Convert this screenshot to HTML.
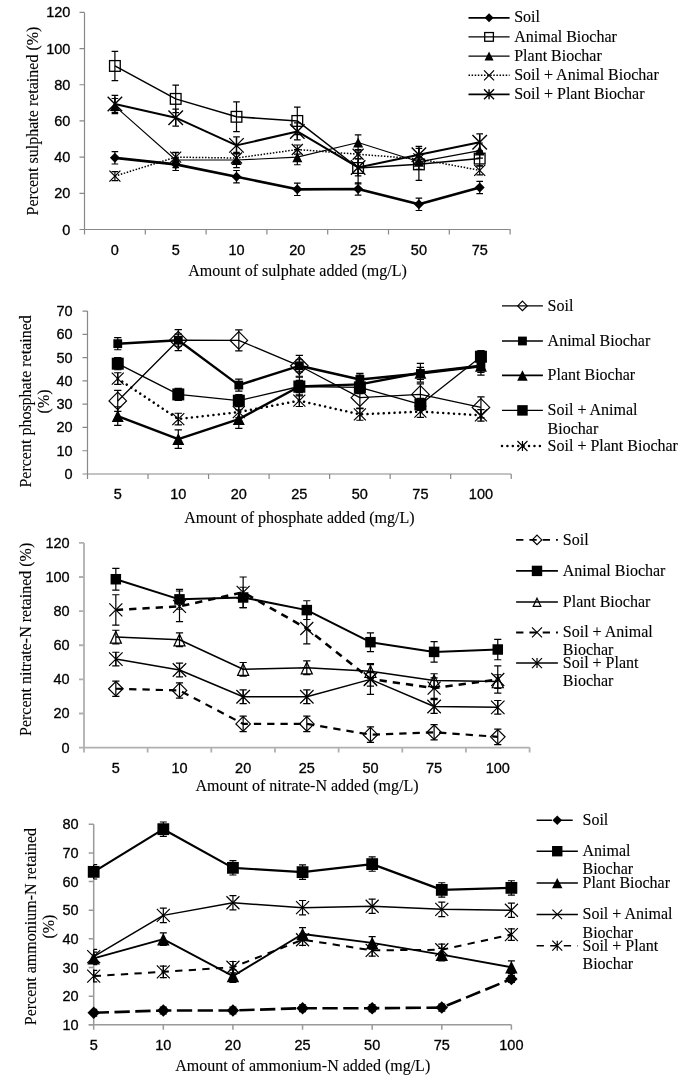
<!DOCTYPE html>
<html><head><meta charset="utf-8"><style>html,body{margin:0;padding:0;background:#fff;}svg{display:block;will-change:transform;}.s{font-family:"Liberation Sans",sans-serif;}.t{font-family:"Liberation Serif",serif;}</style></head>
<body><svg width="685" height="1079" viewBox="0 0 685 1079">
<rect width="685" height="1079" fill="#fff"/>
<path d="M84.5,12.4V229.5M84.5,229.5H510.5" stroke="#888" stroke-width="1.2" fill="none"/>
<path d="M79.5,229.5H84.5M79.5,193.32H84.5M79.5,157.13H84.5M79.5,120.95H84.5M79.5,84.77H84.5M79.5,48.58H84.5M79.5,12.4H84.5M84.5,229.5V234.5M145.3,229.5V234.5M206.1,229.5V234.5M266.9,229.5V234.5M327.7,229.5V234.5M388.5,229.5V234.5M449.3,229.5V234.5M510.1,229.5V234.5" stroke="#888" stroke-width="1.2" fill="none"/>
<g class="s" font-size="14.5" fill="#000" stroke="#000" stroke-width="0.3">
<text x="70.4" y="234.5" text-anchor="end">0</text>
<text x="70.4" y="198.32" text-anchor="end">20</text>
<text x="70.4" y="162.13" text-anchor="end">40</text>
<text x="70.4" y="125.95" text-anchor="end">60</text>
<text x="70.4" y="89.77" text-anchor="end">80</text>
<text x="70.4" y="53.58" text-anchor="end">100</text>
<text x="70.4" y="17.4" text-anchor="end">120</text>
<text x="114.9" y="254.8" text-anchor="middle">0</text>
<text x="175.7" y="254.8" text-anchor="middle">5</text>
<text x="236.5" y="254.8" text-anchor="middle">10</text>
<text x="297.3" y="254.8" text-anchor="middle">20</text>
<text x="358.1" y="254.8" text-anchor="middle">25</text>
<text x="418.9" y="254.8" text-anchor="middle">50</text>
<text x="479.7" y="254.8" text-anchor="middle">75</text>
</g>
<g class="t" font-size="16" fill="#000" stroke="#000" stroke-width="0.12">
<text x="297.5" y="275.6" text-anchor="middle">Amount of sulphate added (mg/L)</text>
<text transform="translate(37.8,121) rotate(-90)" text-anchor="middle">Percent sulphate retained (%)</text>
</g>
<polyline points="114.9,157.86 175.7,164.37 236.5,176.67 297.3,189.34 358.1,188.97 418.9,204.35 479.7,187.53" fill="none" stroke="#000" stroke-width="2.6" stroke-linecap="butt" stroke-linejoin="round"/>
<polyline points="114.9,65.95 175.7,98.88 236.5,116.79 297.3,120.95 358.1,167.99 418.9,164.37 479.7,158.58" fill="none" stroke="#000" stroke-width="1.5" stroke-linecap="butt" stroke-linejoin="round"/>
<polyline points="114.9,106.11 175.7,160.03 236.5,160.03 297.3,157.13 358.1,142.48 418.9,161.84 479.7,150.62" fill="none" stroke="#000" stroke-width="1.1" stroke-linecap="butt" stroke-linejoin="round"/>
<polyline points="114.9,176.13 175.7,157.13 236.5,158.04 297.3,149.53 358.1,154.24 418.9,158.94 479.7,170.34" fill="none" stroke="#000" stroke-width="1.5" stroke-dasharray="1.5 1.6" stroke-linecap="butt" stroke-linejoin="round"/>
<polyline points="114.9,103.94 175.7,117.69 236.5,145.37 297.3,131.44 358.1,167.45 418.9,154.78 479.7,142.3" fill="none" stroke="#000" stroke-width="2.0" stroke-linecap="butt" stroke-linejoin="round"/>
<path d="M114.9,151.71V164.01M111.6,151.71H118.2M111.6,164.01H118.2M175.7,158.22V170.52M172.4,158.22H179M172.4,170.52H179M236.5,170.52V182.82M233.2,170.52H239.8M233.2,182.82H239.8M297.3,183.19V195.49M294,183.19H300.6M294,195.49H300.6M358.1,182.82V195.13M354.8,182.82H361.4M354.8,195.13H361.4M418.9,198.2V210.5M415.6,198.2H422.2M415.6,210.5H422.2M479.7,181.38V193.68M476.4,181.38H483M476.4,193.68H483" stroke="#000" stroke-width="1.2" fill="none"/>
<path d="M114.9,51.3V80.61M111.6,51.3H118.2M111.6,80.61H118.2M175.7,85.13V112.63M172.4,85.13H179M172.4,112.63H179M236.5,101.95V131.62M233.2,101.95H239.8M233.2,131.62H239.8M297.3,107.2V134.7M294,107.2H300.6M294,134.7H300.6M358.1,152.07V183.91M354.8,152.07H361.4M354.8,183.91H361.4M418.9,148.45V180.29M415.6,148.45H422.2M415.6,180.29H422.2M479.7,151.34V165.82M476.4,151.34H483M476.4,165.82H483" stroke="#000" stroke-width="1.2" fill="none"/>
<path d="M114.9,98.52V113.71M111.6,98.52H118.2M111.6,113.71H118.2M175.7,152.43V167.63M172.4,152.43H179M172.4,167.63H179M236.5,152.43V167.63M233.2,152.43H239.8M233.2,167.63H239.8M297.3,149.53V164.73M294,149.53H300.6M294,164.73H300.6M358.1,134.88V150.08M354.8,134.88H361.4M354.8,150.08H361.4M418.9,154.24V169.44M415.6,154.24H422.2M415.6,169.44H422.2M479.7,143.02V158.22M476.4,143.02H483M476.4,158.22H483" stroke="#000" stroke-width="1.2" fill="none"/>
<path d="M114.9,171.61V180.65M111.6,171.61H118.2M111.6,180.65H118.2M175.7,152.61V161.66M172.4,152.61H179M172.4,161.66H179M236.5,153.51V162.56M233.2,153.51H239.8M233.2,162.56H239.8M297.3,145.01V154.06M294,145.01H300.6M294,154.06H300.6M358.1,149.72V158.76M354.8,149.72H361.4M354.8,158.76H361.4M418.9,154.42V163.47M415.6,154.42H422.2M415.6,163.47H422.2M479.7,165.82V174.86M476.4,165.82H483M476.4,174.86H483" stroke="#000" stroke-width="1.2" fill="none"/>
<path d="M114.9,95.44V112.45M111.6,95.44H118.2M111.6,112.45H118.2M175.7,109.19V126.2M172.4,109.19H179M172.4,126.2H179M236.5,136.87V153.88M233.2,136.87H239.8M233.2,153.88H239.8M297.3,122.94V139.95M294,122.94H300.6M294,139.95H300.6M358.1,158.94V175.95M354.8,158.94H361.4M354.8,175.95H361.4M418.9,146.28V163.28M415.6,146.28H422.2M415.6,163.28H422.2M479.7,133.8V150.8M476.4,133.8H483M476.4,150.8H483" stroke="#000" stroke-width="1.2" fill="none"/>
<polygon points="114.9,152.86 119.9,157.86 114.9,162.86 109.9,157.86" fill="#000"/>
<polygon points="175.7,159.37 180.7,164.37 175.7,169.37 170.7,164.37" fill="#000"/>
<polygon points="236.5,171.67 241.5,176.67 236.5,181.67 231.5,176.67" fill="#000"/>
<polygon points="297.3,184.34 302.3,189.34 297.3,194.34 292.3,189.34" fill="#000"/>
<polygon points="358.1,183.97 363.1,188.97 358.1,193.97 353.1,188.97" fill="#000"/>
<polygon points="418.9,199.35 423.9,204.35 418.9,209.35 413.9,204.35" fill="#000"/>
<polygon points="479.7,182.53 484.7,187.53 479.7,192.53 474.7,187.53" fill="#000"/>
<rect x="109.55" y="60.6" width="10.7" height="10.7" fill="none" stroke="#000" stroke-width="1.3"/>
<rect x="170.35" y="93.53" width="10.7" height="10.7" fill="none" stroke="#000" stroke-width="1.3"/>
<rect x="231.15" y="111.44" width="10.7" height="10.7" fill="none" stroke="#000" stroke-width="1.3"/>
<rect x="291.95" y="115.6" width="10.7" height="10.7" fill="none" stroke="#000" stroke-width="1.3"/>
<rect x="352.75" y="162.64" width="10.7" height="10.7" fill="none" stroke="#000" stroke-width="1.3"/>
<rect x="413.55" y="159.02" width="10.7" height="10.7" fill="none" stroke="#000" stroke-width="1.3"/>
<rect x="474.35" y="153.23" width="10.7" height="10.7" fill="none" stroke="#000" stroke-width="1.3"/>
<polygon points="114.9,101.11 119.9,111.11 109.9,111.11" fill="#000"/>
<polygon points="175.7,155.03 180.7,165.03 170.7,165.03" fill="#000"/>
<polygon points="236.5,155.03 241.5,165.03 231.5,165.03" fill="#000"/>
<polygon points="297.3,152.13 302.3,162.13 292.3,162.13" fill="#000"/>
<polygon points="358.1,137.48 363.1,147.48 353.1,147.48" fill="#000"/>
<polygon points="418.9,156.84 423.9,166.84 413.9,166.84" fill="#000"/>
<polygon points="479.7,145.62 484.7,155.62 474.7,155.62" fill="#000"/>
<path d="M109.4,170.63L120.4,181.63M120.4,170.63L109.4,181.63" stroke="#000" stroke-width="1.2" fill="none"/>
<path d="M170.2,151.63L181.2,162.63M181.2,151.63L170.2,162.63" stroke="#000" stroke-width="1.2" fill="none"/>
<path d="M231,152.54L242,163.54M242,152.54L231,163.54" stroke="#000" stroke-width="1.2" fill="none"/>
<path d="M291.8,144.03L302.8,155.03M302.8,144.03L291.8,155.03" stroke="#000" stroke-width="1.2" fill="none"/>
<path d="M352.6,148.74L363.6,159.74M363.6,148.74L352.6,159.74" stroke="#000" stroke-width="1.2" fill="none"/>
<path d="M413.4,153.44L424.4,164.44M424.4,153.44L413.4,164.44" stroke="#000" stroke-width="1.2" fill="none"/>
<path d="M474.2,164.84L485.2,175.84M485.2,164.84L474.2,175.84" stroke="#000" stroke-width="1.2" fill="none"/>
<path d="M107.65,96.69L122.15,111.19M122.15,96.69L107.65,111.19M114.9,96.69L114.9,111.19" stroke="#000" stroke-width="1.4" fill="none"/>
<path d="M168.45,110.44L182.95,124.94M182.95,110.44L168.45,124.94M175.7,110.44L175.7,124.94" stroke="#000" stroke-width="1.4" fill="none"/>
<path d="M229.25,138.12L243.75,152.62M243.75,138.12L229.25,152.62M236.5,138.12L236.5,152.62" stroke="#000" stroke-width="1.4" fill="none"/>
<path d="M290.05,124.19L304.55,138.69M304.55,124.19L290.05,138.69M297.3,124.19L297.3,138.69" stroke="#000" stroke-width="1.4" fill="none"/>
<path d="M350.85,160.2L365.35,174.7M365.35,160.2L350.85,174.7M358.1,160.2L358.1,174.7" stroke="#000" stroke-width="1.4" fill="none"/>
<path d="M411.65,147.53L426.15,162.03M426.15,147.53L411.65,162.03M418.9,147.53L418.9,162.03" stroke="#000" stroke-width="1.4" fill="none"/>
<path d="M472.45,135.05L486.95,149.55M486.95,135.05L472.45,149.55M479.7,135.05L479.7,149.55" stroke="#000" stroke-width="1.4" fill="none"/>
<line x1="468.5" y1="17.8" x2="509.6" y2="17.8" stroke="#000" stroke-width="1.8" stroke-linecap="butt"/>
<polygon points="489.05,13.3 493.55,17.8 489.05,22.3 484.55,17.8" fill="#000"/>
<text x="514.2" y="22.4" class="t" font-size="16" stroke="#000" stroke-width="0.12">Soil</text>
<line x1="468.5" y1="36.9" x2="509.6" y2="36.9" stroke="#000" stroke-width="1.2" stroke-linecap="butt"/>
<rect x="484.7" y="32.55" width="8.7" height="8.7" fill="none" stroke="#000" stroke-width="1.3"/>
<text x="514.2" y="41.5" class="t" font-size="16" stroke="#000" stroke-width="0.12">Animal Biochar</text>
<line x1="468.5" y1="56.1" x2="509.6" y2="56.1" stroke="#000" stroke-width="1.3" stroke-linecap="butt"/>
<polygon points="489.05,51.6 493.55,60.6 484.55,60.6" fill="#000"/>
<text x="514.2" y="60.7" class="t" font-size="16" stroke="#000" stroke-width="0.12">Plant Biochar</text>
<line x1="468.5" y1="75.3" x2="509.6" y2="75.3" stroke="#000" stroke-width="1.5" stroke-dasharray="1.5 1.6" stroke-linecap="butt"/>
<path d="M484.05,70.3L494.05,80.3M494.05,70.3L484.05,80.3" stroke="#000" stroke-width="1.2" fill="none"/>
<text x="514.2" y="79.9" class="t" font-size="16" stroke="#000" stroke-width="0.12">Soil + Animal Biochar</text>
<line x1="468.5" y1="94.3" x2="509.6" y2="94.3" stroke="#000" stroke-width="1.8" stroke-linecap="butt"/>
<path d="M484.05,89.3L494.05,99.3M494.05,89.3L484.05,99.3M489.05,89.3L489.05,99.3" stroke="#000" stroke-width="1.4" fill="none"/>
<text x="514.2" y="98.9" class="t" font-size="16" stroke="#000" stroke-width="0.12">Soil + Plant Biochar</text>
<path d="M87.5,311.1V474M87.5,474H511.2" stroke="#888" stroke-width="1.2" fill="none"/>
<path d="M82.5,474H87.5M82.5,450.73H87.5M82.5,427.46H87.5M82.5,404.19H87.5M82.5,380.91H87.5M82.5,357.64H87.5M82.5,334.37H87.5M82.5,311.1H87.5M87.5,474V479M148.03,474V479M208.56,474V479M269.09,474V479M329.61,474V479M390.14,474V479M450.67,474V479M511.2,474V479" stroke="#888" stroke-width="1.2" fill="none"/>
<g class="s" font-size="14.5" fill="#000" stroke="#000" stroke-width="0.3">
<text x="72.6" y="479" text-anchor="end">0</text>
<text x="72.6" y="455.73" text-anchor="end">10</text>
<text x="72.6" y="432.46" text-anchor="end">20</text>
<text x="72.6" y="409.19" text-anchor="end">30</text>
<text x="72.6" y="385.91" text-anchor="end">40</text>
<text x="72.6" y="362.64" text-anchor="end">50</text>
<text x="72.6" y="339.37" text-anchor="end">60</text>
<text x="72.6" y="316.1" text-anchor="end">70</text>
<text x="117.76" y="499.3" text-anchor="middle">5</text>
<text x="178.29" y="499.3" text-anchor="middle">10</text>
<text x="238.82" y="499.3" text-anchor="middle">20</text>
<text x="299.35" y="499.3" text-anchor="middle">25</text>
<text x="359.88" y="499.3" text-anchor="middle">50</text>
<text x="420.41" y="499.3" text-anchor="middle">75</text>
<text x="480.94" y="499.3" text-anchor="middle">100</text>
</g>
<g class="t" font-size="16" fill="#000" stroke="#000" stroke-width="0.12">
<text x="299.4" y="523.4" text-anchor="middle">Amount of phosphate added (mg/L)</text>
<text transform="translate(30.5,401.4) rotate(-90)" text-anchor="middle">Percent phosphate retained</text>
<text transform="translate(48.8,401.4) rotate(-90)" text-anchor="middle">(%)</text>
</g>
<polyline points="117.76,400.93 178.29,340.19 238.82,340.42 299.35,365.79 359.88,397.67 420.41,394.41 480.94,407.44" fill="none" stroke="#000" stroke-width="1.3" stroke-linecap="butt" stroke-linejoin="round"/>
<polyline points="117.76,343.68 178.29,340.19 238.82,385.1 299.35,365.79 359.88,379.52 420.41,373.47 480.94,366.25" fill="none" stroke="#000" stroke-width="2.4" stroke-linecap="butt" stroke-linejoin="round"/>
<polyline points="117.76,416.05 178.29,439.09 238.82,419.08 299.35,386.5 359.88,384.4 420.41,372.77 480.94,365.79" fill="none" stroke="#000" stroke-width="2.4" stroke-linecap="butt" stroke-linejoin="round"/>
<polyline points="117.76,363.69 178.29,394.41 238.82,400.69 299.35,386.5 359.88,387.43 420.41,404.42 480.94,356.71" fill="none" stroke="#000" stroke-width="1.3" stroke-linecap="butt" stroke-linejoin="round"/>
<polyline points="117.76,378.59 178.29,419.08 238.82,412.1 299.35,400.69 359.88,414.43 420.41,411.63 480.94,415.36" fill="none" stroke="#000" stroke-width="2.5" stroke-dasharray="0.01 5.4" stroke-linecap="round" stroke-linejoin="round"/>
<path d="M117.76,390.46V411.4M114.11,390.46H121.41M114.11,411.4H121.41M178.29,329.72V350.66M174.64,329.72H181.94M174.64,350.66H181.94M238.82,329.95V350.89M235.17,329.95H242.47M235.17,350.89H242.47M299.35,355.32V376.26M295.7,355.32H303M295.7,376.26H303M359.88,387.2V408.14M356.23,387.2H363.53M356.23,408.14H363.53M420.41,383.94V404.88M416.76,383.94H424.06M416.76,404.88H424.06M480.94,396.97V417.92M477.29,396.97H484.59M477.29,417.92H484.59" stroke="#000" stroke-width="1.2" fill="none"/>
<path d="M117.76,337.63V349.73M114.11,337.63H121.41M114.11,349.73H121.41M178.29,334.14V346.24M174.64,334.14H181.94M174.64,346.24H181.94M238.82,379.05V391.15M235.17,379.05H242.47M235.17,391.15H242.47M299.35,359.74V371.84M295.7,359.74H303M295.7,371.84H303M359.88,373.47V385.57M356.23,373.47H363.53M356.23,385.57H363.53M420.41,367.42V379.52M416.76,367.42H424.06M416.76,379.52H424.06M480.94,360.2V372.3M477.29,360.2H484.59M477.29,372.3H484.59" stroke="#000" stroke-width="1.2" fill="none"/>
<path d="M117.76,406.75V425.36M114.11,406.75H121.41M114.11,425.36H121.41M178.29,429.78V448.4M174.64,429.78H181.94M174.64,448.4H181.94M238.82,409.77V428.39M235.17,409.77H242.47M235.17,428.39H242.47M299.35,377.19V395.81M295.7,377.19H303M295.7,395.81H303M359.88,375.1V393.71M356.23,375.1H363.53M356.23,393.71H363.53M420.41,363.46V382.08M416.76,363.46H424.06M416.76,382.08H424.06M480.94,356.48V375.1M477.29,356.48H484.59M477.29,375.1H484.59" stroke="#000" stroke-width="1.2" fill="none"/>
<path d="M117.76,357.64V369.74M114.11,357.64H121.41M114.11,369.74H121.41M178.29,388.36V400.46M174.64,388.36H181.94M174.64,400.46H181.94M238.82,394.64V406.75M235.17,394.64H242.47M235.17,406.75H242.47M299.35,380.45V392.55M295.7,380.45H303M295.7,392.55H303M359.88,381.38V393.48M356.23,381.38H363.53M356.23,393.48H363.53M420.41,398.37V410.47M416.76,398.37H424.06M416.76,410.47H424.06M480.94,350.66V362.76M477.29,350.66H484.59M477.29,362.76H484.59" stroke="#000" stroke-width="1.2" fill="none"/>
<path d="M117.76,372.77V384.4M114.11,372.77H121.41M114.11,384.4H121.41M178.29,413.26V424.9M174.64,413.26H181.94M174.64,424.9H181.94M238.82,406.28V417.92M235.17,406.28H242.47M235.17,417.92H242.47M299.35,394.88V406.51M295.7,394.88H303M295.7,406.51H303M359.88,408.61V420.24M356.23,408.61H363.53M356.23,420.24H363.53M420.41,405.81V417.45M416.76,405.81H424.06M416.76,417.45H424.06M480.94,409.54V421.17M477.29,409.54H484.59M477.29,421.17H484.59" stroke="#000" stroke-width="1.2" fill="none"/>
<polygon points="117.76,392.18 126.51,400.93 117.76,409.68 109.01,400.93" fill="none" stroke="#000" stroke-width="1.2"/>
<polygon points="178.29,331.44 187.04,340.19 178.29,348.94 169.54,340.19" fill="none" stroke="#000" stroke-width="1.2"/>
<polygon points="238.82,331.67 247.57,340.42 238.82,349.17 230.07,340.42" fill="none" stroke="#000" stroke-width="1.2"/>
<polygon points="299.35,357.04 308.1,365.79 299.35,374.54 290.6,365.79" fill="none" stroke="#000" stroke-width="1.2"/>
<polygon points="359.88,388.92 368.63,397.67 359.88,406.42 351.13,397.67" fill="none" stroke="#000" stroke-width="1.2"/>
<polygon points="420.41,385.66 429.16,394.41 420.41,403.16 411.66,394.41" fill="none" stroke="#000" stroke-width="1.2"/>
<polygon points="480.94,398.69 489.69,407.44 480.94,416.19 472.19,407.44" fill="none" stroke="#000" stroke-width="1.2"/>
<rect x="113.36" y="339.28" width="8.8" height="8.8" fill="#000"/>
<rect x="173.89" y="335.79" width="8.8" height="8.8" fill="#000"/>
<rect x="234.42" y="380.7" width="8.8" height="8.8" fill="#000"/>
<rect x="294.95" y="361.39" width="8.8" height="8.8" fill="#000"/>
<rect x="355.48" y="375.12" width="8.8" height="8.8" fill="#000"/>
<rect x="416.01" y="369.07" width="8.8" height="8.8" fill="#000"/>
<rect x="476.54" y="361.85" width="8.8" height="8.8" fill="#000"/>
<polygon points="117.76,410.05 123.76,422.05 111.76,422.05" fill="#000"/>
<polygon points="178.29,433.09 184.29,445.09 172.29,445.09" fill="#000"/>
<polygon points="238.82,413.08 244.82,425.08 232.82,425.08" fill="#000"/>
<polygon points="299.35,380.5 305.35,392.5 293.35,392.5" fill="#000"/>
<polygon points="359.88,378.4 365.88,390.4 353.88,390.4" fill="#000"/>
<polygon points="420.41,366.77 426.41,378.77 414.41,378.77" fill="#000"/>
<polygon points="480.94,359.79 486.94,371.79 474.94,371.79" fill="#000"/>
<rect x="111.76" y="357.69" width="12" height="12" fill="#000"/>
<rect x="172.29" y="388.41" width="12" height="12" fill="#000"/>
<rect x="232.82" y="394.69" width="12" height="12" fill="#000"/>
<rect x="293.35" y="380.5" width="12" height="12" fill="#000"/>
<rect x="353.88" y="381.43" width="12" height="12" fill="#000"/>
<rect x="414.41" y="398.42" width="12" height="12" fill="#000"/>
<rect x="474.94" y="350.71" width="12" height="12" fill="#000"/>
<path d="M111.76,372.59L123.76,384.59M123.76,372.59L111.76,384.59M117.76,372.59L117.76,384.59" stroke="#000" stroke-width="1.2" fill="none"/>
<path d="M172.29,413.08L184.29,425.08M184.29,413.08L172.29,425.08M178.29,413.08L178.29,425.08" stroke="#000" stroke-width="1.2" fill="none"/>
<path d="M232.82,406.1L244.82,418.1M244.82,406.1L232.82,418.1M238.82,406.1L238.82,418.1" stroke="#000" stroke-width="1.2" fill="none"/>
<path d="M293.35,394.69L305.35,406.69M305.35,394.69L293.35,406.69M299.35,394.69L299.35,406.69" stroke="#000" stroke-width="1.2" fill="none"/>
<path d="M353.88,408.43L365.88,420.43M365.88,408.43L353.88,420.43M359.88,408.43L359.88,420.43" stroke="#000" stroke-width="1.2" fill="none"/>
<path d="M414.41,405.63L426.41,417.63M426.41,405.63L414.41,417.63M420.41,405.63L420.41,417.63" stroke="#000" stroke-width="1.2" fill="none"/>
<path d="M474.94,409.36L486.94,421.36M486.94,409.36L474.94,421.36M480.94,409.36L480.94,421.36" stroke="#000" stroke-width="1.2" fill="none"/>
<line x1="502" y1="305.9" x2="542.9" y2="305.9" stroke="#000" stroke-width="1.3" stroke-linecap="butt"/>
<polygon points="522.45,301.15 527.2,305.9 522.45,310.65 517.7,305.9" fill="none" stroke="#000" stroke-width="1.2"/>
<text x="547.6" y="310.8" class="t" font-size="16" stroke="#000" stroke-width="0.12">Soil</text>
<line x1="502" y1="341" x2="542.9" y2="341" stroke="#000" stroke-width="1.6" stroke-linecap="butt"/>
<rect x="518.05" y="336.6" width="8.8" height="8.8" fill="#000"/>
<text x="547.6" y="345.9" class="t" font-size="16" stroke="#000" stroke-width="0.12">Animal Biochar</text>
<line x1="502" y1="375.4" x2="542.9" y2="375.4" stroke="#000" stroke-width="1.6" stroke-linecap="butt"/>
<polygon points="522.45,370.15 527.7,380.65 517.2,380.65" fill="#000"/>
<text x="547.6" y="380.3" class="t" font-size="16" stroke="#000" stroke-width="0.12">Plant Biochar</text>
<line x1="502" y1="410.4" x2="542.9" y2="410.4" stroke="#000" stroke-width="1.3" stroke-linecap="butt"/>
<rect x="517.2" y="405.15" width="10.5" height="10.5" fill="#000"/>
<text x="547.6" y="415.3" class="t" font-size="16" stroke="#000" stroke-width="0.12">Soil + Animal</text>
<text x="547.6" y="433.5" class="t" font-size="16" stroke="#000" stroke-width="0.12">Biochar</text>
<line x1="502" y1="446" x2="542.9" y2="446" stroke="#000" stroke-width="2.5" stroke-dasharray="0.01 5.4" stroke-linecap="round"/>
<path d="M517.45,441L527.45,451M527.45,441L517.45,451M522.45,441L522.45,451" stroke="#000" stroke-width="1.2" fill="none"/>
<text x="547.6" y="450.9" class="t" font-size="16" stroke="#000" stroke-width="0.12">Soil + Plant Biochar</text>
<path d="M84,542.9V747.6M84,747.6H529.6" stroke="#b0b0b0" stroke-width="1.8" fill="none"/>
<path d="M79,747.6H84M79,713.48H84M79,679.37H84M79,645.25H84M79,611.13H84M79,577.02H84M79,542.9H84M84,747.6V752.6M147.66,747.6V752.6M211.31,747.6V752.6M274.97,747.6V752.6M338.63,747.6V752.6M402.29,747.6V752.6M465.94,747.6V752.6M529.6,747.6V752.6" stroke="#b0b0b0" stroke-width="1.8" fill="none"/>
<g class="s" font-size="14.5" fill="#000" stroke="#000" stroke-width="0.3">
<text x="69.6" y="752.6" text-anchor="end">0</text>
<text x="69.6" y="718.48" text-anchor="end">20</text>
<text x="69.6" y="684.37" text-anchor="end">40</text>
<text x="69.6" y="650.25" text-anchor="end">60</text>
<text x="69.6" y="616.13" text-anchor="end">80</text>
<text x="69.6" y="582.02" text-anchor="end">100</text>
<text x="69.6" y="547.9" text-anchor="end">120</text>
<text x="115.83" y="772.9" text-anchor="middle">5</text>
<text x="179.49" y="772.9" text-anchor="middle">10</text>
<text x="243.14" y="772.9" text-anchor="middle">20</text>
<text x="306.8" y="772.9" text-anchor="middle">25</text>
<text x="370.46" y="772.9" text-anchor="middle">50</text>
<text x="434.11" y="772.9" text-anchor="middle">75</text>
<text x="497.77" y="772.9" text-anchor="middle">100</text>
</g>
<g class="t" font-size="16" fill="#000" stroke="#000" stroke-width="0.12">
<text x="307" y="790.5" text-anchor="middle">Amount of nitrate-N added (mg/L)</text>
<text transform="translate(31,639.4) rotate(-90)" text-anchor="middle">Percent nitrate-N retained (%)</text>
</g>
<polyline points="115.83,688.75 179.49,690.45 243.14,723.89 306.8,723.89 370.46,734.64 434.11,732.25 497.77,736.85" fill="none" stroke="#000" stroke-width="2.2" stroke-dasharray="7.3 6" stroke-linecap="butt" stroke-linejoin="round"/>
<polyline points="115.83,579.23 179.49,599.36 243.14,597.49 306.8,610.11 370.46,642.18 434.11,651.9 497.77,649.51" fill="none" stroke="#000" stroke-width="2.0" stroke-linecap="butt" stroke-linejoin="round"/>
<polyline points="115.83,637.06 179.49,639.79 243.14,669.3 306.8,667.77 370.46,671.35 434.11,680.56 497.77,681.58" fill="none" stroke="#000" stroke-width="1.5" stroke-linecap="butt" stroke-linejoin="round"/>
<polyline points="115.83,609.94 179.49,606.36 243.14,592.37 306.8,628.53 370.46,679.03 434.11,688.07 497.77,679.54" fill="none" stroke="#000" stroke-width="2.6" stroke-dasharray="7.3 6" stroke-linecap="butt" stroke-linejoin="round"/>
<polyline points="115.83,659.07 179.49,669.98 243.14,696.77 306.8,696.77 370.46,679.37 434.11,706.49 497.77,707.34" fill="none" stroke="#000" stroke-width="1.5" stroke-linecap="butt" stroke-linejoin="round"/>
<path d="M115.83,681.07V696.42M112.23,681.07H119.43M112.23,696.42H119.43M179.49,682.78V698.13M175.89,682.78H183.09M175.89,698.13H183.09M243.14,716.21V731.57M239.54,716.21H246.74M239.54,731.57H246.74M306.8,716.21V731.57M303.2,716.21H310.4M303.2,731.57H310.4M370.46,726.96V742.31M366.86,726.96H374.06M366.86,742.31H374.06M434.11,724.57V739.92M430.51,724.57H437.71M430.51,739.92H437.71M497.77,729.18V744.53M494.17,729.18H501.37M494.17,744.53H501.37" stroke="#000" stroke-width="1.2" fill="none"/>
<path d="M115.83,568.32V590.15M112.23,568.32H119.43M112.23,590.15H119.43M179.49,589.47V609.26M175.89,589.47H183.09M175.89,609.26H183.09M243.14,587.25V607.72M239.54,587.25H246.74M239.54,607.72H246.74M306.8,600.73V619.49M303.2,600.73H310.4M303.2,619.49H310.4M370.46,632.8V651.56M366.86,632.8H374.06M366.86,651.56H374.06M434.11,641.67V662.14M430.51,641.67H437.71M430.51,662.14H437.71M497.77,639.28V659.75M494.17,639.28H501.37M494.17,659.75H501.37" stroke="#000" stroke-width="1.2" fill="none"/>
<path d="M115.83,630.24V643.89M112.23,630.24H119.43M112.23,643.89H119.43M179.49,632.97V646.61M175.89,632.97H183.09M175.89,646.61H183.09M243.14,662.48V676.13M239.54,662.48H246.74M239.54,676.13H246.74M306.8,660.94V674.59M303.2,660.94H310.4M303.2,674.59H310.4M370.46,664.53V678.17M366.86,664.53H374.06M366.86,678.17H374.06M434.11,673.74V687.38M430.51,673.74H437.71M430.51,687.38H437.71M497.77,674.76V688.41M494.17,674.76H501.37M494.17,688.41H501.37" stroke="#000" stroke-width="1.2" fill="none"/>
<path d="M115.83,594.76V625.12M112.23,594.76H119.43M112.23,625.12H119.43M179.49,591V621.71M175.89,591H183.09M175.89,621.71H183.09M243.14,577.02V607.72M239.54,577.02H246.74M239.54,607.72H246.74M306.8,613.18V643.89M303.2,613.18H310.4M303.2,643.89H310.4M370.46,663.67V694.38M366.86,663.67H374.06M366.86,694.38H374.06M434.11,677.83V698.3M430.51,677.83H437.71M430.51,698.3H437.71M497.77,665.89V693.18M494.17,665.89H501.37M494.17,693.18H501.37" stroke="#000" stroke-width="1.2" fill="none"/>
<path d="M115.83,652.24V665.89M112.23,652.24H119.43M112.23,665.89H119.43M179.49,663.16V676.81M175.89,663.16H183.09M175.89,676.81H183.09M243.14,689.94V703.59M239.54,689.94H246.74M239.54,703.59H246.74M306.8,689.94V703.59M303.2,689.94H310.4M303.2,703.59H310.4M370.46,672.54V686.19M366.86,672.54H374.06M366.86,686.19H374.06M434.11,699.67V713.31M430.51,699.67H437.71M430.51,713.31H437.71M497.77,700.52V714.17M494.17,700.52H501.37M494.17,714.17H501.37" stroke="#000" stroke-width="1.2" fill="none"/>
<polygon points="115.83,681.5 123.08,688.75 115.83,696 108.58,688.75" fill="none" stroke="#000" stroke-width="1.2"/>
<polygon points="179.49,683.2 186.74,690.45 179.49,697.7 172.24,690.45" fill="none" stroke="#000" stroke-width="1.2"/>
<polygon points="243.14,716.64 250.39,723.89 243.14,731.14 235.89,723.89" fill="none" stroke="#000" stroke-width="1.2"/>
<polygon points="306.8,716.64 314.05,723.89 306.8,731.14 299.55,723.89" fill="none" stroke="#000" stroke-width="1.2"/>
<polygon points="370.46,727.39 377.71,734.64 370.46,741.89 363.21,734.64" fill="none" stroke="#000" stroke-width="1.2"/>
<polygon points="434.11,725 441.36,732.25 434.11,739.5 426.86,732.25" fill="none" stroke="#000" stroke-width="1.2"/>
<polygon points="497.77,729.6 505.02,736.85 497.77,744.1 490.52,736.85" fill="none" stroke="#000" stroke-width="1.2"/>
<rect x="110.58" y="573.98" width="10.5" height="10.5" fill="#000"/>
<rect x="174.24" y="594.11" width="10.5" height="10.5" fill="#000"/>
<rect x="237.89" y="592.24" width="10.5" height="10.5" fill="#000"/>
<rect x="301.55" y="604.86" width="10.5" height="10.5" fill="#000"/>
<rect x="365.21" y="636.93" width="10.5" height="10.5" fill="#000"/>
<rect x="428.86" y="646.65" width="10.5" height="10.5" fill="#000"/>
<rect x="492.52" y="644.26" width="10.5" height="10.5" fill="#000"/>
<polygon points="115.83,631.51 121.38,643.21 110.28,643.21" fill="none" stroke="#000" stroke-width="1.2"/>
<polygon points="179.49,634.24 185.04,645.94 173.94,645.94" fill="none" stroke="#000" stroke-width="1.2"/>
<polygon points="243.14,663.75 248.69,675.45 237.59,675.45" fill="none" stroke="#000" stroke-width="1.2"/>
<polygon points="306.8,662.22 312.35,673.92 301.25,673.92" fill="none" stroke="#000" stroke-width="1.2"/>
<polygon points="370.46,665.8 376.01,677.5 364.91,677.5" fill="none" stroke="#000" stroke-width="1.2"/>
<polygon points="434.11,675.01 439.66,686.71 428.56,686.71" fill="none" stroke="#000" stroke-width="1.2"/>
<polygon points="497.77,676.03 503.32,687.73 492.22,687.73" fill="none" stroke="#000" stroke-width="1.2"/>
<path d="M109.33,603.44L122.33,616.44M122.33,603.44L109.33,616.44" stroke="#000" stroke-width="1.2" fill="none"/>
<path d="M172.99,599.86L185.99,612.86M185.99,599.86L172.99,612.86" stroke="#000" stroke-width="1.2" fill="none"/>
<path d="M236.64,585.87L249.64,598.87M249.64,585.87L236.64,598.87" stroke="#000" stroke-width="1.2" fill="none"/>
<path d="M300.3,622.03L313.3,635.03M313.3,622.03L300.3,635.03" stroke="#000" stroke-width="1.2" fill="none"/>
<path d="M363.96,672.53L376.96,685.53M376.96,672.53L363.96,685.53" stroke="#000" stroke-width="1.2" fill="none"/>
<path d="M427.61,681.57L440.61,694.57M440.61,681.57L427.61,694.57" stroke="#000" stroke-width="1.2" fill="none"/>
<path d="M491.27,673.04L504.27,686.04M504.27,673.04L491.27,686.04" stroke="#000" stroke-width="1.2" fill="none"/>
<path d="M109.08,652.32L122.58,665.82M122.58,652.32L109.08,665.82M115.83,652.32L115.83,665.82" stroke="#000" stroke-width="1.2" fill="none"/>
<path d="M172.74,663.23L186.24,676.73M186.24,663.23L172.74,676.73M179.49,663.23L179.49,676.73" stroke="#000" stroke-width="1.2" fill="none"/>
<path d="M236.39,690.02L249.89,703.52M249.89,690.02L236.39,703.52M243.14,690.02L243.14,703.52" stroke="#000" stroke-width="1.2" fill="none"/>
<path d="M300.05,690.02L313.55,703.52M313.55,690.02L300.05,703.52M306.8,690.02L306.8,703.52" stroke="#000" stroke-width="1.2" fill="none"/>
<path d="M363.71,672.62L377.21,686.12M377.21,672.62L363.71,686.12M370.46,672.62L370.46,686.12" stroke="#000" stroke-width="1.2" fill="none"/>
<path d="M427.36,699.74L440.86,713.24M440.86,699.74L427.36,713.24M434.11,699.74L434.11,713.24" stroke="#000" stroke-width="1.2" fill="none"/>
<path d="M491.02,700.59L504.52,714.09M504.52,700.59L491.02,714.09M497.77,700.59L497.77,714.09" stroke="#000" stroke-width="1.2" fill="none"/>
<line x1="516.1" y1="539.9" x2="557.9" y2="539.9" stroke="#000" stroke-width="1.9" stroke-dasharray="7.3 6" stroke-linecap="butt"/>
<polygon points="537,535.15 541.75,539.9 537,544.65 532.25,539.9" fill="none" stroke="#000" stroke-width="1.2"/>
<text x="562.8" y="544.7" class="t" font-size="16" stroke="#000" stroke-width="0.12">Soil</text>
<line x1="516.1" y1="570.9" x2="557.9" y2="570.9" stroke="#000" stroke-width="1.6" stroke-linecap="butt"/>
<rect x="531.8" y="565.7" width="10.4" height="10.4" fill="#000"/>
<text x="562.8" y="575.7" class="t" font-size="16" stroke="#000" stroke-width="0.12">Animal Biochar</text>
<line x1="516.1" y1="602" x2="557.9" y2="602" stroke="#000" stroke-width="1.5" stroke-linecap="butt"/>
<polygon points="537,598.2 540.8,606.4 533.2,606.4" fill="none" stroke="#000" stroke-width="1.2"/>
<text x="562.8" y="606.8" class="t" font-size="16" stroke="#000" stroke-width="0.12">Plant Biochar</text>
<line x1="516.1" y1="632.4" x2="557.9" y2="632.4" stroke="#000" stroke-width="2.0" stroke-dasharray="7.3 6" stroke-linecap="butt"/>
<path d="M532,627.4L542,637.4M542,627.4L532,637.4" stroke="#000" stroke-width="1.2" fill="none"/>
<text x="562.8" y="637.2" class="t" font-size="16" stroke="#000" stroke-width="0.12">Soil + Animal</text>
<text x="562.8" y="655.4" class="t" font-size="16" stroke="#000" stroke-width="0.12">Biochar</text>
<line x1="516.1" y1="663.1" x2="557.9" y2="663.1" stroke="#000" stroke-width="1.5" stroke-linecap="butt"/>
<path d="M532,658.1L542,668.1M542,658.1L532,668.1M537,658.1L537,668.1" stroke="#000" stroke-width="1.2" fill="none"/>
<text x="562.8" y="667.9" class="t" font-size="16" stroke="#000" stroke-width="0.12">Soil + Plant</text>
<text x="562.8" y="686.1" class="t" font-size="16" stroke="#000" stroke-width="0.12">Biochar</text>
<path d="M93.7,824.3V1024.8M88.7,1024.8H511.4" stroke="#9a9a9a" stroke-width="1.5" fill="none"/>
<path d="M88.7,1024.8H93.7M88.7,996.16H93.7M88.7,967.51H93.7M88.7,938.87H93.7M88.7,910.23H93.7M88.7,881.59H93.7M88.7,852.94H93.7M88.7,824.3H93.7M93.7,1024.8V1029.8M163.32,1024.8V1029.8M232.93,1024.8V1029.8M302.55,1024.8V1029.8M372.17,1024.8V1029.8M441.78,1024.8V1029.8M511.4,1024.8V1029.8" stroke="#9a9a9a" stroke-width="1.5" fill="none"/>
<g class="s" font-size="14.5" fill="#000" stroke="#000" stroke-width="0.3">
<text x="78.6" y="1029.8" text-anchor="end">10</text>
<text x="78.6" y="1001.16" text-anchor="end">20</text>
<text x="78.6" y="972.51" text-anchor="end">30</text>
<text x="78.6" y="943.87" text-anchor="end">40</text>
<text x="78.6" y="915.23" text-anchor="end">50</text>
<text x="78.6" y="886.59" text-anchor="end">60</text>
<text x="78.6" y="857.94" text-anchor="end">70</text>
<text x="78.6" y="829.3" text-anchor="end">80</text>
<text x="93.7" y="1050.1" text-anchor="middle">5</text>
<text x="163.32" y="1050.1" text-anchor="middle">10</text>
<text x="232.93" y="1050.1" text-anchor="middle">20</text>
<text x="302.55" y="1050.1" text-anchor="middle">25</text>
<text x="372.17" y="1050.1" text-anchor="middle">50</text>
<text x="441.78" y="1050.1" text-anchor="middle">75</text>
<text x="511.4" y="1050.1" text-anchor="middle">100</text>
</g>
<g class="t" font-size="16" fill="#000" stroke="#000" stroke-width="0.12">
<text x="302.7" y="1071.1" text-anchor="middle">Amount of ammonium-N added (mg/L)</text>
<text transform="translate(36.3,926.6) rotate(-90)" text-anchor="middle">Percent ammonium-N retained</text>
<text transform="translate(54,926.6) rotate(-90)" text-anchor="middle">(%)</text>
</g>
<polyline points="93.7,1012.77 163.32,1010.48 232.93,1010.48 302.55,1008.19 372.17,1008.19 441.78,1007.61 511.4,978.97" fill="none" stroke="#000" stroke-width="2.6" stroke-dasharray="15.3 5.5" stroke-linecap="butt" stroke-linejoin="round"/>
<polyline points="93.7,871.85 163.32,829.17 232.93,867.84 302.55,872.13 372.17,864.11 441.78,889.89 511.4,887.89" fill="none" stroke="#000" stroke-width="2.2" stroke-linecap="butt" stroke-linejoin="round"/>
<polyline points="93.7,958.35 163.32,939.16 232.93,976.11 302.55,934 372.17,942.88 441.78,954.62 511.4,967.23" fill="none" stroke="#000" stroke-width="1.8" stroke-linecap="butt" stroke-linejoin="round"/>
<polyline points="93.7,956.63 163.32,915.38 232.93,902.78 302.55,907.65 372.17,906.22 441.78,909.37 511.4,910.23" fill="none" stroke="#000" stroke-width="1.5" stroke-linecap="butt" stroke-linejoin="round"/>
<polyline points="93.7,976.11 163.32,971.81 232.93,967.23 302.55,939.73 372.17,950.33 441.78,949.76 511.4,934.57" fill="none" stroke="#000" stroke-width="2.0" stroke-dasharray="7.3 6.3" stroke-linecap="butt" stroke-linejoin="round"/>
<path d="M93.7,1009.33V1016.21M93.7,1009.33H97.2M93.7,1016.21H97.2M163.32,1007.04V1013.92M159.82,1007.04H166.82M159.82,1013.92H166.82M232.93,1007.04V1013.92M229.43,1007.04H236.43M229.43,1013.92H236.43M302.55,1004.75V1011.62M299.05,1004.75H306.05M299.05,1011.62H306.05M372.17,1004.75V1011.62M368.67,1004.75H375.67M368.67,1011.62H375.67M441.78,1004.18V1011.05M438.28,1004.18H445.28M438.28,1011.05H445.28M511.4,975.53V982.41M507.9,975.53H514.9M507.9,982.41H514.9" stroke="#000" stroke-width="1.2" fill="none"/>
<path d="M93.7,864.69V879.01M93.7,864.69H97.2M93.7,879.01H97.2M163.32,822.01V836.33M159.82,822.01H166.82M159.82,836.33H166.82M232.93,860.68V875M229.43,860.68H236.43M229.43,875H236.43M302.55,864.97V879.29M299.05,864.97H306.05M299.05,879.29H306.05M372.17,856.95V871.27M368.67,856.95H375.67M368.67,871.27H375.67M441.78,882.73V897.05M438.28,882.73H445.28M438.28,897.05H445.28M511.4,880.73V895.05M507.9,880.73H514.9M507.9,895.05H514.9" stroke="#000" stroke-width="1.2" fill="none"/>
<path d="M93.7,952.05V964.65M93.7,952.05H97.2M93.7,964.65H97.2M163.32,932.86V945.46M159.82,932.86H166.82M159.82,945.46H166.82M232.93,969.81V982.41M229.43,969.81H236.43M229.43,982.41H236.43M302.55,927.7V940.3M299.05,927.7H306.05M299.05,940.3H306.05M372.17,936.58V949.18M368.67,936.58H375.67M368.67,949.18H375.67M441.78,948.32V960.93M438.28,948.32H445.28M438.28,960.93H445.28M511.4,960.93V973.53M507.9,960.93H514.9M507.9,973.53H514.9" stroke="#000" stroke-width="1.2" fill="none"/>
<path d="M93.7,949.47V963.79M93.7,949.47H97.2M93.7,963.79H97.2M163.32,908.22V922.54M159.82,908.22H166.82M159.82,922.54H166.82M232.93,895.62V909.94M229.43,895.62H236.43M229.43,909.94H236.43M302.55,900.49V914.81M299.05,900.49H306.05M299.05,914.81H306.05M372.17,899.06V913.38M368.67,899.06H375.67M368.67,913.38H375.67M441.78,902.21V916.53M438.28,902.21H445.28M438.28,916.53H445.28M511.4,903.07V917.39M507.9,903.07H514.9M507.9,917.39H514.9" stroke="#000" stroke-width="1.2" fill="none"/>
<path d="M93.7,970.38V981.84M93.7,970.38H97.2M93.7,981.84H97.2M163.32,966.08V977.54M159.82,966.08H166.82M159.82,977.54H166.82M232.93,961.5V972.96M229.43,961.5H236.43M229.43,972.96H236.43M302.55,934V945.46M299.05,934H306.05M299.05,945.46H306.05M372.17,944.6V956.06M368.67,944.6H375.67M368.67,956.06H375.67M441.78,944.03V955.48M438.28,944.03H445.28M438.28,955.48H445.28M511.4,928.85V940.3M507.9,928.85H514.9M507.9,940.3H514.9" stroke="#000" stroke-width="1.2" fill="none"/>
<polygon points="93.7,1006.52 99.95,1012.77 93.7,1019.02 87.45,1012.77" fill="#000"/>
<polygon points="163.32,1004.23 169.57,1010.48 163.32,1016.73 157.07,1010.48" fill="#000"/>
<polygon points="232.93,1004.23 239.18,1010.48 232.93,1016.73 226.68,1010.48" fill="#000"/>
<polygon points="302.55,1001.94 308.8,1008.19 302.55,1014.44 296.3,1008.19" fill="#000"/>
<polygon points="372.17,1001.94 378.42,1008.19 372.17,1014.44 365.92,1008.19" fill="#000"/>
<polygon points="441.78,1001.36 448.03,1007.61 441.78,1013.86 435.53,1007.61" fill="#000"/>
<polygon points="511.4,972.72 517.65,978.97 511.4,985.22 505.15,978.97" fill="#000"/>
<rect x="87.8" y="865.95" width="11.8" height="11.8" fill="#000"/>
<rect x="157.42" y="823.27" width="11.8" height="11.8" fill="#000"/>
<rect x="227.03" y="861.94" width="11.8" height="11.8" fill="#000"/>
<rect x="296.65" y="866.23" width="11.8" height="11.8" fill="#000"/>
<rect x="366.27" y="858.21" width="11.8" height="11.8" fill="#000"/>
<rect x="435.88" y="883.99" width="11.8" height="11.8" fill="#000"/>
<rect x="505.5" y="881.99" width="11.8" height="11.8" fill="#000"/>
<polygon points="93.7,952.1 99.95,964.6 87.45,964.6" fill="#000"/>
<polygon points="163.32,932.91 169.57,945.41 157.07,945.41" fill="#000"/>
<polygon points="232.93,969.86 239.18,982.36 226.68,982.36" fill="#000"/>
<polygon points="302.55,927.75 308.8,940.25 296.3,940.25" fill="#000"/>
<polygon points="372.17,936.63 378.42,949.13 365.92,949.13" fill="#000"/>
<polygon points="441.78,948.38 448.03,960.88 435.53,960.88" fill="#000"/>
<polygon points="511.4,960.98 517.65,973.48 505.15,973.48" fill="#000"/>
<path d="M87.2,950.13L100.2,963.13M100.2,950.13L87.2,963.13" stroke="#000" stroke-width="1.2" fill="none"/>
<path d="M156.82,908.88L169.82,921.88M169.82,908.88L156.82,921.88" stroke="#000" stroke-width="1.2" fill="none"/>
<path d="M226.43,896.28L239.43,909.28M239.43,896.28L226.43,909.28" stroke="#000" stroke-width="1.2" fill="none"/>
<path d="M296.05,901.15L309.05,914.15M309.05,901.15L296.05,914.15" stroke="#000" stroke-width="1.2" fill="none"/>
<path d="M365.67,899.72L378.67,912.72M378.67,899.72L365.67,912.72" stroke="#000" stroke-width="1.2" fill="none"/>
<path d="M435.28,902.87L448.28,915.87M448.28,902.87L435.28,915.87" stroke="#000" stroke-width="1.2" fill="none"/>
<path d="M504.9,903.73L517.9,916.73M517.9,903.73L504.9,916.73" stroke="#000" stroke-width="1.2" fill="none"/>
<path d="M87.2,969.61L100.2,982.61M100.2,969.61L87.2,982.61M93.7,969.61L93.7,982.61" stroke="#000" stroke-width="1.2" fill="none"/>
<path d="M156.82,965.31L169.82,978.31M169.82,965.31L156.82,978.31M163.32,965.31L163.32,978.31" stroke="#000" stroke-width="1.2" fill="none"/>
<path d="M226.43,960.73L239.43,973.73M239.43,960.73L226.43,973.73M232.93,960.73L232.93,973.73" stroke="#000" stroke-width="1.2" fill="none"/>
<path d="M296.05,933.23L309.05,946.23M309.05,933.23L296.05,946.23M302.55,933.23L302.55,946.23" stroke="#000" stroke-width="1.2" fill="none"/>
<path d="M365.67,943.83L378.67,956.83M378.67,943.83L365.67,956.83M372.17,943.83L372.17,956.83" stroke="#000" stroke-width="1.2" fill="none"/>
<path d="M435.28,943.26L448.28,956.26M448.28,943.26L435.28,956.26M441.78,943.26L441.78,956.26" stroke="#000" stroke-width="1.2" fill="none"/>
<path d="M504.9,928.07L517.9,941.07M517.9,928.07L504.9,941.07M511.4,928.07L511.4,941.07" stroke="#000" stroke-width="1.2" fill="none"/>
<line x1="536.6" y1="820.2" x2="577.9" y2="820.2" stroke="#000" stroke-width="1.6" stroke-dasharray="15.3 5.5" stroke-linecap="butt"/>
<polygon points="557.25,815.4 562.05,820.2 557.25,825 552.45,820.2" fill="#000"/>
<text x="582.5" y="825.2" class="t" font-size="16" stroke="#000" stroke-width="0.12">Soil</text>
<line x1="536.6" y1="851.2" x2="577.9" y2="851.2" stroke="#000" stroke-width="1.6" stroke-linecap="butt"/>
<rect x="552.05" y="846" width="10.4" height="10.4" fill="#000"/>
<text x="582.5" y="856.2" class="t" font-size="16" stroke="#000" stroke-width="0.12">Animal</text>
<text x="582.5" y="874.4" class="t" font-size="16" stroke="#000" stroke-width="0.12">Biochar</text>
<line x1="536.6" y1="883.1" x2="577.9" y2="883.1" stroke="#000" stroke-width="1.5" stroke-linecap="butt"/>
<polygon points="557.25,877.9 562.45,888.3 552.05,888.3" fill="#000"/>
<text x="582.5" y="888.1" class="t" font-size="16" stroke="#000" stroke-width="0.12">Plant Biochar</text>
<line x1="536.6" y1="914.4" x2="577.9" y2="914.4" stroke="#000" stroke-width="1.5" stroke-linecap="butt"/>
<path d="M552.45,909.6L562.05,919.2M562.05,909.6L552.45,919.2" stroke="#000" stroke-width="1.2" fill="none"/>
<text x="582.5" y="919.4" class="t" font-size="16" stroke="#000" stroke-width="0.12">Soil + Animal</text>
<text x="582.5" y="937.6" class="t" font-size="16" stroke="#000" stroke-width="0.12">Biochar</text>
<line x1="536.6" y1="945.7" x2="577.9" y2="945.7" stroke="#000" stroke-width="1.5" stroke-dasharray="7.3 6.3" stroke-linecap="butt"/>
<path d="M552.25,940.7L562.25,950.7M562.25,940.7L552.25,950.7M557.25,940.7L557.25,950.7" stroke="#000" stroke-width="1.2" fill="none"/>
<text x="582.5" y="950.7" class="t" font-size="16" stroke="#000" stroke-width="0.12">Soil + Plant</text>
<text x="582.5" y="968.9" class="t" font-size="16" stroke="#000" stroke-width="0.12">Biochar</text>
</svg></body></html>
